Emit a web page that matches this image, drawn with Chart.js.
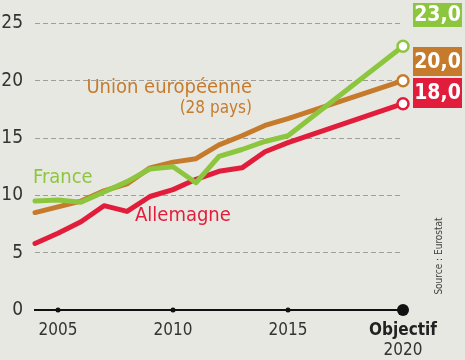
<!DOCTYPE html>
<html><head><meta charset="utf-8">
<script src="https://cdn.jsdelivr.net/npm/chart.js@4/dist/chart.umd.min.js"></script>
<style>
html,body{margin:0;padding:0;background:#e8e8e2;}
#wrap{position:relative;width:465px;height:360px;}
</style></head>
<body><div id="wrap"><canvas id="c" width="465" height="360"></canvas></div>
<script>
const years = [2004,2005,2006,2007,2008,2009,2010,2011,2012,2013,2014,2015,2020];
const france = [9.5,9.6,9.4,10.3,11.2,12.3,12.5,11.1,13.4,14.0,14.7,15.2,23.0];
const ue28 = [8.5,9.0,9.5,10.4,11.0,12.4,12.9,13.2,14.4,15.2,16.1,16.7,20.0];
const allemagne = [5.8,6.7,7.7,9.1,8.6,9.9,10.5,11.4,12.1,12.4,13.8,14.6,18.0];
const xTicks = [2005,2010,2015,2020];
const yTicks = [0,5,10,15,20,25];
const seriesNames = ['France','Union européenne','Allemagne'];
const targetLabels = ['23,0','20,0','18,0'];

const FONT = '"DejaVu Sans Condensed","Liberation Sans Narrow","Roboto",sans-serif';
const NARROW = '"Liberation Sans Narrow","DejaVu Sans Condensed",sans-serif';
const GREEN = '#8cc63e', ORANGE = '#c67b2c', RED = '#e21d3b';

function ds(label, data, color){
  return {
    label, data: years.map((y,i)=>({x:y,y:data[i]})),
    borderColor: color, borderWidth: 5, tension: 0, clip: false,
    pointRadius: ctx => ctx.dataIndex === years.length-1 ? 5.5 : 0,
    pointBackgroundColor: '#ffffff', pointBorderColor: color, pointBorderWidth: 2.5,
    borderCapStyle: 'round', borderJoinStyle: 'round'
  };
}

const decor = {
  id: 'decor',
  afterDraw(chart){
    const c = chart.ctx, xs = chart.scales.x, ys = chart.scales.y;
    c.save();
    xTicks.forEach(t=>{
      c.beginPath();
      c.fillStyle = '#111';
      c.arc(xs.getPixelForValue(t), ys.getPixelForValue(0), t===2020?6:2.5, 0, Math.PI*2);
      c.fill();
    });
    c.fillStyle = '#333';
    c.textAlign = 'center'; c.textBaseline = 'alphabetic';
    xTicks.forEach(t=>{
      const px = xs.getPixelForValue(t);
      if (t===2020){
        c.font = 'bold 17px ' + FONT;
        c.fillStyle = '#222';
        c.fillText('Objectif', px, 335);
        c.font = '17px ' + FONT;
        c.fillStyle = '#333';
        c.fillText(String(t), px, 355);
      } else {
        c.font = '17px ' + FONT;
        c.fillText(String(t), px, 335);
      }
    });
    c.textAlign = 'left';
    c.font = '20px ' + FONT;
    c.fillStyle = GREEN; c.fillText(seriesNames[0], 33, 183);
    c.fillStyle = RED; c.fillText(seriesNames[2], 135, 221);
    c.fillStyle = ORANGE; c.textAlign = 'right';
    c.fillText(seriesNames[1], 252, 93);
    c.font = '17px ' + FONT;
    c.fillText('(28 pays)', 252, 113);
    const boxes = [[GREEN,3,27],[ORANGE,47,76],[RED,78,108]];
    boxes.forEach((b,i)=>{
      c.fillStyle = b[0];
      c.fillRect(413, b[1], 49, b[2]-b[1]);
      c.fillStyle = '#fff';
      c.font = 'bold 21px ' + FONT;
      c.textAlign = 'center'; c.textBaseline = 'middle';
      c.fillText(targetLabels[i], 437.5, (b[1]+b[2])/2+1);
    });
    c.translate(439, 256);
    c.rotate(-Math.PI/2);
    c.font = '10px ' + NARROW;
    c.fillStyle = '#444';
    c.textAlign = 'center'; c.textBaseline = 'middle';
    c.fillText('Source : Eurostat', 0, 0);
    c.restore();
  }
};

new Chart(document.getElementById('c'), {
  type: 'line',
  data: { datasets: [ ds('France', france, GREEN), ds('UE', ue28, ORANGE), ds('Allemagne', allemagne, RED) ] },
  options: {
    responsive: false, animation: false,
    layout: { padding: { left: 0, right: 62, top: 12, bottom: 0 } },
    plugins: { legend: { display: false }, tooltip: { enabled: false } },
    scales: {
      x: {
        type: 'linear', min: 2004, max: 2020,
        grid: { display: false },
        border: { display: true, color: '#111', width: 2 },
        ticks: { display: false },
        afterFit(s){ s.height = 50; }
      },
      y: {
        min: 0, max: 25,
        afterBuildTicks(s){ s.ticks = yTicks.map(v=>({value:v})); },
        grid: {
          color: ctx => ctx.tick && ctx.tick.value === 0 ? 'rgba(0,0,0,0)' : '#9d9d9a',
          lineWidth: 1, drawTicks: false
        },
        border: { display: false, dash: [5,3] },
        ticks: { color: '#333', font: { family: FONT, size: 19 }, padding: 12 },
        afterFit(s){ s.width = 35; }
      }
    }
  },
  plugins: [decor]
});
</script></body></html>
